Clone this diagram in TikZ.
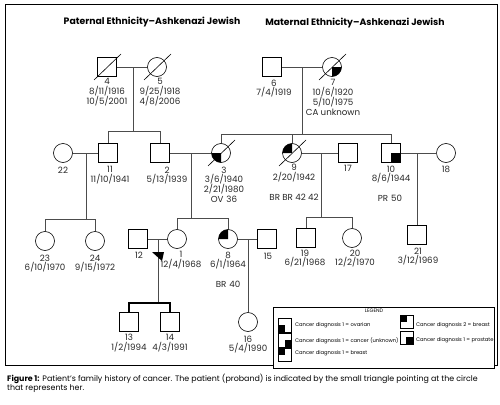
\documentclass[tikz,border=0pt]{standalone}
\usepackage{fontspec}
\setmainfont{Poppins}
\usetikzlibrary{calc}
\begin{document}
\begin{tikzpicture}[x=1pt,y=-1pt,
  sq/.style={draw, minimum size=19pt, inner sep=0pt, line width=0.6pt},
  ci/.style={draw, circle, minimum size=19pt, inner sep=0pt, line width=0.6pt},
  lab/.style={anchor=north, align=center, inner sep=0pt, text=black!85, font=\fontsize{8.7}{9.8}\selectfont},
  conn/.style={line width=0.6pt, draw=black!70},
  thickconn/.style={line width=1.3pt, draw=black},
  dec/.style={line width=0.6pt},
  ttl/.style={font=\bfseries\fontsize{9.3}{10}\selectfont, inner sep=0pt},
  leg/.style={anchor=west, inner sep=0pt, font=\fontsize{5.2}{6}\selectfont},
  legbox/.style={draw, line width=0.4pt, inner sep=0pt},
  captext/.style={anchor=west, inner sep=0pt, font=\fontsize{7.9}{9}\selectfont}]
\useasboundingbox (0,0) rectangle (500,404);
\fill[white] (0,0) rectangle (500,404);
\draw[line width=0.7pt] (5,4) rectangle (497,365);

% titles
\node[ttl] (tp) at (152,22) {Paternal Ethnicity–Ashkenazi Jewish};
\node[ttl] (tm) at (355,23) {Maternal Ethnicity–Ashkenazi Jewish};

% generation I
\node[sq] (s4) at (107,67) {};
\node[ci] (c5) at (157,67) {};
\node[sq] (s6) at (272,67) {};
\fill (332,67) -- (341.5,67) arc[start angle=0,end angle=90,radius=9.5] -- cycle;
\node[ci] (c7) at (332,67) {};

% generation II
\node[ci] (c22) at (63,153) {};
\node[sq] (s11) at (108,153) {};
\node[sq] (s2) at (160,153) {};
\fill (221,153) -- (221,162.5) arc[start angle=90,end angle=180,radius=9.5] -- cycle;
\node[ci] (c3) at (221,153) {};
\fill (292,153) -- (282.5,153) arc[start angle=180,end angle=270,radius=9.5] -- cycle;
\node[ci] (c9) at (292,153) {};
\node[sq] (s17) at (348,153) {};
\node[sq] (s10) at (391,153) {};
\fill (s10.center) rectangle (s10.south east);
\node[ci] (c18) at (446,153) {};

% generation III
\node[ci] (c23) at (45,241) {};
\node[ci] (c24) at (95,241) {};
\node[sq] (s12) at (138,239) {};
\node[ci] (c1) at (177,239) {};
\fill (228,239) -- (218.5,239) arc[start angle=180,end angle=270,radius=9.5] -- cycle;
\node[ci] (c8) at (228,239) {};
\node[sq] (s15) at (267,239) {};
\node[sq] (s19) at (306,238) {};
\node[ci] (c20) at (352,238) {};
\node[sq] (s21) at (417,235) {};

% generation IV
\node[sq] (s13) at (129,322) {};
\node[sq] (s14) at (170,322) {};
\node[ci] (c16) at (248,322) {};

% deceased marks
\foreach \n in {s4,c5,c7,c3,c9}
  \draw[dec] ($(\n.center)+(-13,13)$) -- ($(\n.center)+(14,-13)$);

% couple and sibship lines
\coordinate (m45) at (133,67);
\coordinate (b45) at (133,131);
\draw[conn] (s4) -- (c5);
\draw[conn] (m45) -- (b45);
\draw[conn] (s11.north) -- (s11.north |- b45) -- (s2.north |- b45) -- (s2.north);

\coordinate (m67) at (302,67);
\coordinate (b67) at (302,134);
\draw[conn] (s6) -- (c7);
\draw[conn] (m67) -- (b67);
\draw[conn] (c3.north) -- (c3.north |- b67) -- (s10.north |- b67) -- (s10.north);
\draw[conn] (c9.north) -- (c9.north |- b67);

\coordinate (m2211) at (86,153);
\coordinate (b2211) at (86,219);
\draw[conn] (c22) -- (s11);
\draw[conn] (m2211) -- (b2211);
\draw[conn] (c23.north) -- (c23.north |- b2211) -- (c24.north |- b2211) -- (c24.north);

\coordinate (m23) at (191,153);
\coordinate (b23) at (191,218);
\draw[conn] (s2) -- (c3);
\draw[conn] (m23) -- (b23);
\draw[conn] (c1.north) -- (c1.north |- b23) -- (c8.north |- b23) -- (c8.north);

\coordinate (m917) at (321,153);
\coordinate (b917) at (321,217);
\draw[conn] (c9) -- (s17);
\draw[conn] (m917) -- (b917);
\draw[conn] (s19.north) -- (s19.north |- b917) -- (c20.north |- b917) -- (c20.north);

\coordinate (m1018) at (417,153);
\draw[conn] (s10) -- (c18);
\draw[conn] (m1018) -- (s21.north);

\coordinate (m121) at (158,239);
\coordinate (b121) at (158,303);
\draw[conn] (s12) -- (c1);
\draw[conn] (m121) -- (b121);
\draw[thickconn] (s13.north) -- (s13.north |- b121) -- (s14.north |- b121) -- (s14.north);

\coordinate (m815) at (248,239);
\draw[conn] (c8) -- (s15);
\draw[conn] (m815) -- (c16.north);

% proband marker
\fill (152,252) -- (164,252) -- (162,261) -- cycle;

% labels
\node[lab] (l4) at (107,78.5) {4\\8/11/1916\\10/5/2001};
\node[lab] (l5) at (160,78.5) {5\\9/25/1918\\4/8/2006};
\node[lab] (l6) at (274,79.5) {6\\7/4/1919};
\node[lab] (l7) at (333,79.5) {7\\10/6/1920\\5/10/1975\\CA unknown};
\node[lab] (l22) at (63,166.5) {22};
\node[lab] (l11) at (110,166.5) {11\\11/10/1941};
\node[lab] (l2) at (167,166.5) {2\\5/13/1939};
\node[lab] (l3) at (224,166.5) {3\\3/6/1940\\2/21/1980\\OV\,\,36};
\node[lab] (l9) at (294,164) {9\\2/20/1942};
\node[lab] (lbr9) at (294,193.5) {BR BR 42 42};
\node[lab] (l17) at (348,165.5) {17};
\node[lab] (l10) at (391,165.5) {10\\8/6/1944};
\node[lab] (lpr) at (390,194.5) {PR\,\,50};
\node[lab] (l18) at (446,165.5) {18};
\node[lab] (l23) at (45,254.5) {23\\6/10/1970};
\node[lab] (l24) at (95,254.5) {24\\9/15/1972};
\node[lab] (l12) at (139,251.5) {12};
\node[lab] (l1) at (181,251.5) {1\\12/4/1968};
\node[lab] (l8) at (228,251.5) {8\\6/1/1964};
\node[lab] (lbr8) at (228,280.5) {BR\,\,40};
\node[lab] (l15) at (268,252.5) {15};
\node[lab] (l19) at (305,249.5) {19\\6/21/1968};
\node[lab] (l20) at (355,249.5) {20\\12/2/1970};
\node[lab] (l21) at (418,247.5) {21\\3/12/1969};
\node[lab] (l13) at (129,334) {13\\1/2/1994};
\node[lab] (l14) at (170,334) {14\\4/3/1991};
\node[lab] (l16) at (248,335.5) {16\\5/4/1990};

% legend
\draw[line width=0.6pt, fill=white] (273,307) rectangle (494,368);
\node[inner sep=0pt, font=\fontsize{5}{6}\selectfont] (lt) at (374,311) {LEGEND};
\draw[legbox] (278,318) rectangle (291,332);
\fill (278,325) rectangle (285,332);
\node[leg] (lg1) at (295,325) {Cancer diagnosis 1 = ovarian};
\draw[legbox] (278,333) rectangle (291,347);
\fill (285,340) rectangle (291,347);
\node[leg] (lg2) at (295,341) {Cancer diagnosis 1 = cancer (unknown)};
\draw[legbox] (278,348) rectangle (291,361);
\fill (278,348) rectangle (285,355);
\node[leg] (lg3) at (295,353) {Cancer diagnosis 1 = breast};
\draw[legbox] (400,315) rectangle (413,328);
\fill (400,315) rectangle (406.5,322);
\node[leg] (lg4) at (416,325) {Cancer diagnosis 2 = breast};
\draw[legbox] (400,331) rectangle (413,344);
\fill (406,337) rectangle (413,344);
\node[leg] (lg5) at (416,340) {Cancer diagnosis 1 = prostate};

% caption
\node[captext] (cap1) at (7,379) {\textbf{Figure 1:} Patient’s family history of cancer. The patient (proband) is indicated by the small triangle pointing at the circle};
\node[captext] (cap2) at (7,388.5) {that represents her.};
\end{tikzpicture}
\end{document}
